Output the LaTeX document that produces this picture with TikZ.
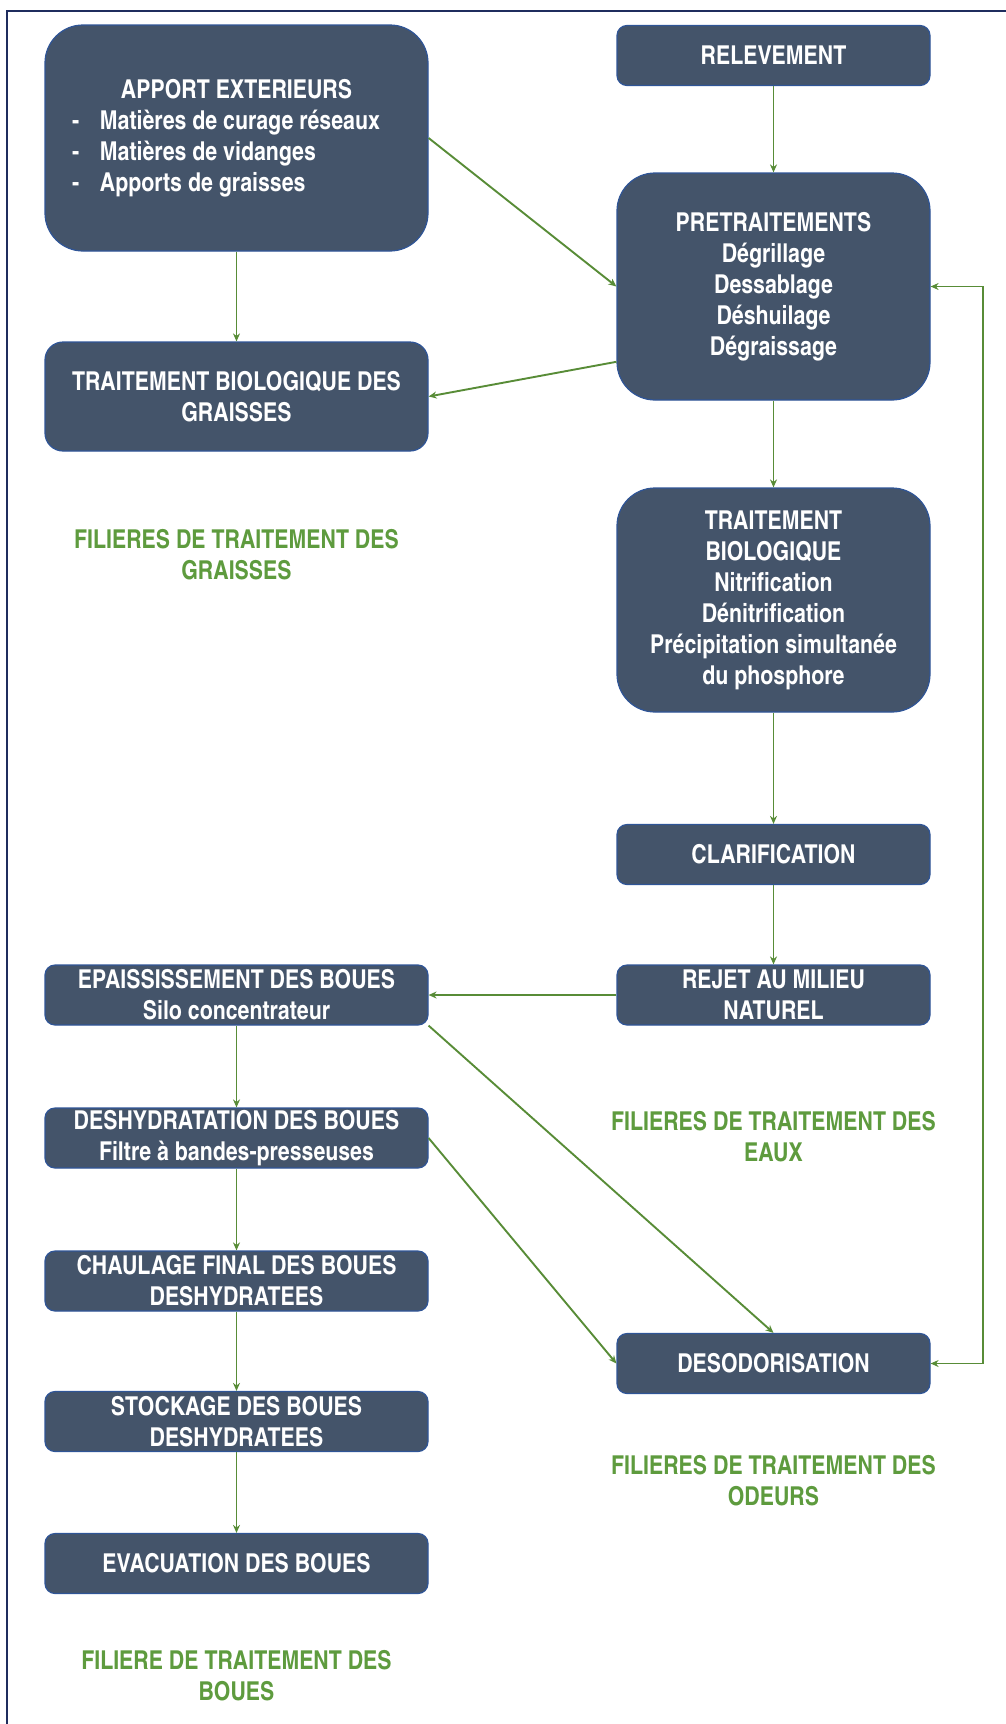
\documentclass[tikz,border=0pt]{standalone}
\usepackage{fontspec}
\newfontfamily\cnb{texgyreheroscn-bold.otf}
\usetikzlibrary{arrows.meta,calc}
\definecolor{boxfill}{HTML}{44546A}
\definecolor{boxline}{HTML}{2F5597}
\definecolor{arrowgreen}{HTML}{588C37}
\definecolor{labelgreen}{HTML}{5E9B3E}
\definecolor{framecol}{HTML}{1F2D5E}
\begin{document}
\begin{tikzpicture}[x=0.5pt,y=-0.5pt,
  box/.style={draw=boxline, line width=0.6pt, fill=boxfill, text=white,
    font=\cnb\fontsize{13pt}{15.5pt}\selectfont, align=center, inner sep=0pt, rectangle},
  leftbox/.style={box, minimum width=191.5pt},
  rightbox/.style={box, minimum width=156.5pt},
  small/.style={rounded corners=5pt, minimum height=30pt},
  big/.style={rounded corners=19pt},
  lbl/.style={text=labelgreen, font=\cnb\fontsize{13pt}{15.5pt}\selectfont, align=center, inner sep=0pt},
  arr/.style={draw=arrowgreen, line width=0.95pt, -{Stealth[length=4pt,width=3.5pt]}},
  arrboth/.style={draw=arrowgreen, line width=0.95pt, {Stealth[length=4pt,width=3.5pt]}-{Stealth[length=4pt,width=3.5pt]}}
]
\useasboundingbox (0,0) rectangle (1006,1724);
\draw[framecol, line width=1pt] (7,1730) -- (7,11) -- (1012,11);

% left column
\node[leftbox, big, minimum height=113pt] (app) at (236.5,138) {\parbox{191.5pt}{\centering APPORT EXTERIEURS\par\raggedright
  \hspace*{13.5pt}\makebox[14pt][l]{-}Matières de curage réseaux\par
  \hspace*{13.5pt}\makebox[14pt][l]{-}Matières de vidanges\par
  \hspace*{13.5pt}\makebox[14pt][l]{-}Apports de graisses}};
\node[leftbox, rounded corners=9pt, minimum height=54.5pt] (tbg) at (236.5,396.5) {TRAITEMENT BIOLOGIQUE DES\\GRAISSES};
\node[lbl] (lgr) at (236.5,554.5) {FILIERES DE TRAITEMENT DES\\GRAISSES};

\node[leftbox, small] (epa) at (236.5,995) {EPAISSISSEMENT DES BOUES\\Silo concentrateur};
\node[leftbox, small] (dsh) at (236.5,1138) {DESHYDRATATION DES BOUES\\Filtre à bandes-presseuses};
\node[leftbox, small] (cha) at (236.5,1281) {CHAULAGE FINAL DES BOUES\\DESHYDRATEES};
\node[leftbox, small] (sto) at (236.5,1421.5) {STOCKAGE DES BOUES\\DESHYDRATEES};
\node[leftbox, small] (eva) at (236.5,1563.5) {EVACUATION DES BOUES};
\node[lbl] (lbo) at (236.5,1676) {FILIERE DE TRAITEMENT DES\\BOUES};

% right column
\node[rightbox, small] (rel) at (773.5,55.5) {RELEVEMENT};
\node[rightbox, big, minimum height=113.5pt] (pre) at (773.5,286.5) {PRETRAITEMENTS\\Dégrillage\\Dessablage\\Déshuilage\\Dégraissage};
\node[rightbox, big, minimum height=112pt] (bio) at (773.5,600) {TRAITEMENT\\BIOLOGIQUE\\Nitrification\\Dénitrification\\Précipitation simultanée\\du phosphore};
\node[rightbox, small] (cla) at (773.5,854.5) {CLARIFICATION};
\node[rightbox, small] (rej) at (773.5,995) {REJET AU MILIEU\\NATUREL};
\node[lbl] (leu) at (773.5,1137) {FILIERES DE TRAITEMENT DES\\EAUX};
\node[rightbox, small] (odo) at (773.5,1363.5) {DESODORISATION};
\node[lbl] (lod) at (773.5,1481) {FILIERES DE TRAITEMENT DES\\ODEURS};

% connectors
\coordinate (preout) at ($(pre.south west)!0.17!(pre.north west)$);
\coordinate (loopx) at (983,0);
\draw[arr] (rel) -- (pre);
\draw[arr] (app.east) -- (pre.west);
\draw[arr] (app) -- (tbg);
\draw[arr] (preout) -- (tbg.east);
\draw[arr] (pre) -- (bio);
\draw[arr] (bio) -- (cla);
\draw[arr] (cla) -- (rej);
\draw[arr] (rej.west) -- (epa.east);
\draw[arr] (epa) -- (dsh);
\draw[arr] (dsh) -- (cha);
\draw[arr] (cha) -- (sto);
\draw[arr] (sto) -- (eva);
\draw[arr] (epa.south east) -- (odo.north);
\draw[arr] (dsh.east) -- (odo.west);
\draw[arrboth] (odo.east) -- (odo.east -| loopx) -- (pre.east -| loopx) -- (pre.east);
\end{tikzpicture}
\end{document}
